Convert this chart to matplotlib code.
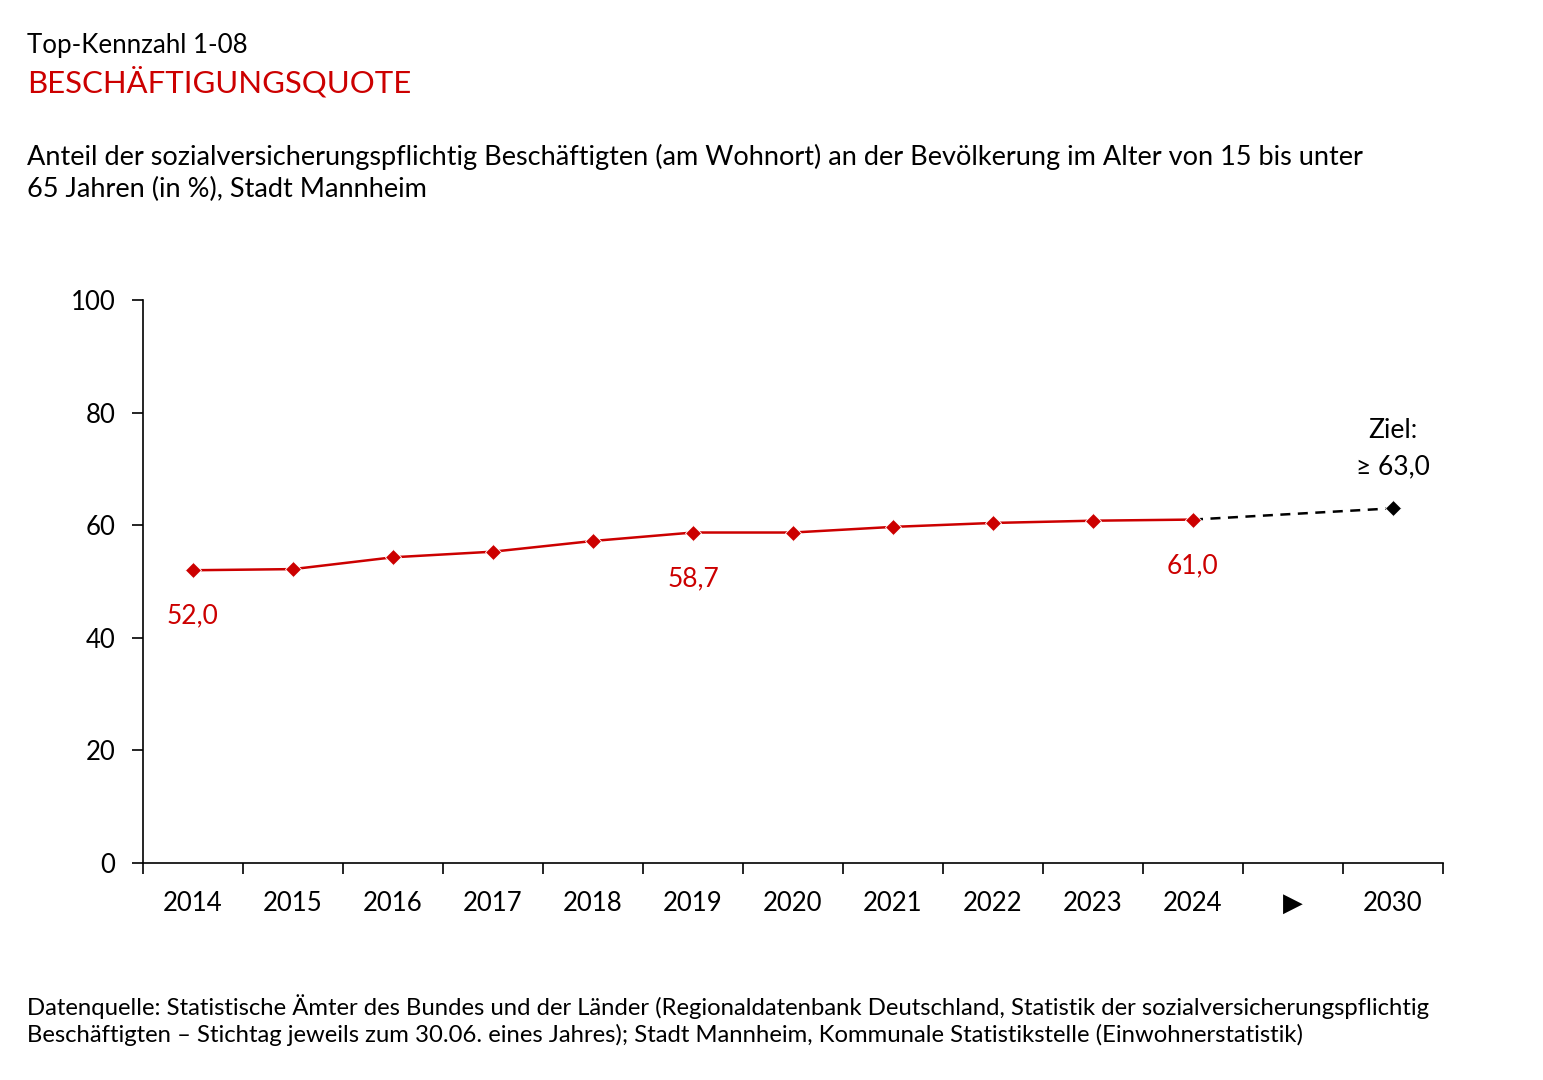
import numpy as np
import matplotlib.pyplot as plt

plt.rcParams['font.family'] = ['Lato', 'DejaVu Sans']

# Beschäftigungsquote Stadt Mannheim (in %)
years = ['2014', '2015', '2016', '2017', '2018', '2019', '2020',
         '2021', '2022', '2023', '2024']
values = [52.0, 52.2, 54.3, 55.3, 57.2, 58.7, 58.7, 59.7, 60.4, 60.8, 61.0]
target_year = '2030'
target_value = 63.0
tick_labels = years + ['\u25B6', target_year]
labelled = {'2014': '52,0', '2019': '58,7', '2024': '61,0'}

red = '#cc0000'

fig = plt.figure(figsize=(15.43, 10.8), dpi=100)
ax = fig.add_axes([143 / 1543, 1 - 863 / 1080, 1300 / 1543, 563 / 1080])

x = np.arange(len(years))
x_target = len(tick_labels) - 1

ax.plot([x[-1], x_target], [values[-1], target_value], color='black',
        lw=1.8, ls=(0, (4, 3)), zorder=2)
ax.plot(x, values, color=red, lw=1.8, marker='D', ms=8, mfc=red, mec='white',
        mew=0.6, zorder=3)
ax.plot([x_target], [target_value], marker='D', ms=8, color='black',
        mec='white', mew=0.6, zorder=3)

for i, yr in enumerate(years):
    if yr in labelled:
        ax.annotate(labelled[yr], (i, values[i]), xytext=(0, -33),
                    textcoords='offset points', ha='center', va='center',
                    color=red, fontsize=19)
ax.annotate('Ziel:\n\u2265 63,0', (x_target, target_value), xytext=(0, 43),
            textcoords='offset points', ha='center', va='center',
            color='black', fontsize=19, linespacing=1.55)

ax.set_xlim(-0.5, len(tick_labels) - 0.5)
ax.set_ylim(0, 100)
ax.set_yticks(np.arange(0, 101, 20))
ax.set_xticks(np.arange(len(tick_labels)))
ax.set_xticklabels(tick_labels)
ax.set_xticks(np.arange(-0.5, len(tick_labels)), minor=True)
ax.tick_params(axis='x', which='major', length=0, pad=20, labelsize=18.5)
ax.tick_params(axis='x', which='minor', length=8, width=1.2, direction='out')
ax.tick_params(axis='y', length=8, width=1.2, pad=12, labelsize=18.5)

for s in ['top', 'right']:
    ax.spines[s].set_visible(False)
for s in ['left', 'bottom']:
    ax.spines[s].set_linewidth(1.2)

fig.text(27 / 1543, 1 - 45 / 1080, 'Top-Kennzahl 1-08', fontsize=18.6,
         va='center', ha='left')
fig.text(27 / 1543, 1 - 82 / 1080, 'BESCHÄFTIGUNGSQUOTE', fontsize=22.4,
         color=red, va='center', ha='left')
fig.text(27 / 1543, 1 - 173 / 1080,
         'Anteil der sozialversicherungspflichtig Beschäftigten (am Wohnort) an der '
         'Bevölkerung im Alter von 15 bis unter\n65 Jahren (in %), Stadt Mannheim',
         fontsize=19.5, va='center', ha='left', linespacing=1.3)
fig.text(27 / 1543, 1 - 1020 / 1080,
         'Datenquelle: Statistische Ämter des Bundes und der Länder (Regionaldatenbank '
         'Deutschland, Statistik der sozialversicherungspflichtig\nBeschäftigten – '
         'Stichtag jeweils zum 30.06. eines Jahres); Stadt Mannheim, Kommunale '
         'Statistikstelle (Einwohnerstatistik)',
         fontsize=17.2, va='center', ha='left', linespacing=1.3)

fig.savefig('out.png', dpi=100)
